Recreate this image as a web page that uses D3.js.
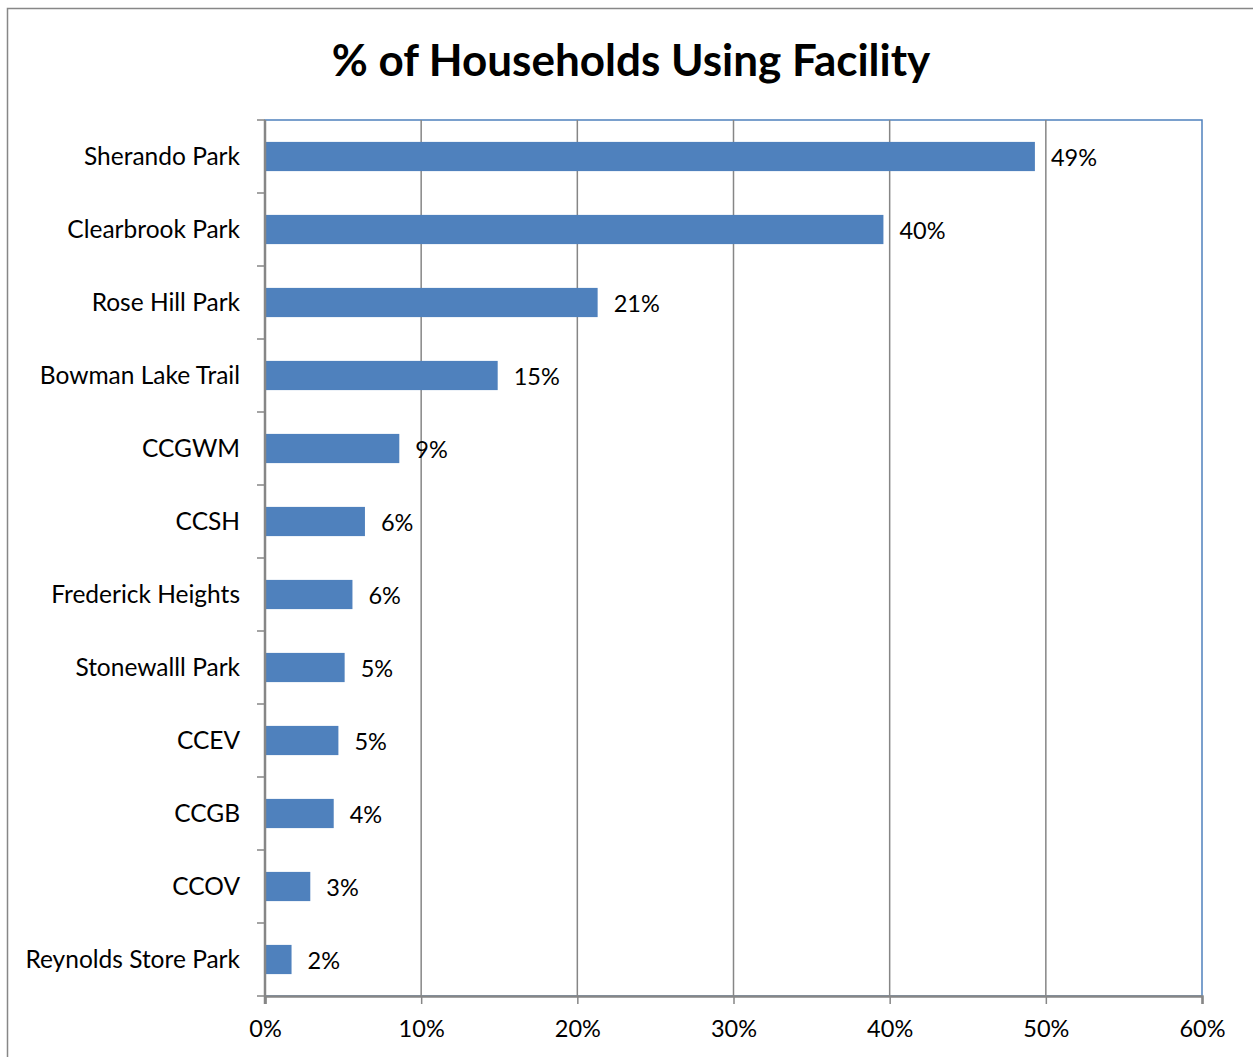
<!DOCTYPE html>
<html>
<head>
<meta charset="utf-8">
<script src="https://cdn.jsdelivr.net/npm/d3@7"></script>
<style>
  body { margin: 0; background: #fff; }
  svg { display: block; font-family: Lato, "Open Sans", sans-serif; }
</style>
</head>
<body>
<div id="chart"></div>
<script>
"use strict";

// Data
const categories = ['Sherando Park', 'Clearbrook Park', 'Rose Hill Park', 'Bowman Lake Trail', 'CCGWM', 'CCSH',
	'Frederick Heights', 'Stonewalll Park', 'CCEV', 'CCGB', 'CCOV', 'Reynolds Store Park'];
const values = [49.3, 39.6, 21.3, 14.9, 8.6, 6.4, 5.6, 5.1, 4.7, 4.4, 2.9, 1.7];
const valueLabels = ['49%', '40%', '21%', '15%', '9%', '6%', '6%', '5%', '5%', '4%', '3%', '2%'];
const xTicks = [0, 10, 20, 30, 40, 50, 60];
const title = '% of Households Using Facility';

const width = 1253, height = 1057;
const plot = { left: 265, right: 1202, top: 120, bottom: 996 };

const svg = d3.select('#chart').append('svg')
	.attr('width', width)
	.attr('height', height);

// Outer chart border
svg.append('rect')
	.attr('x', 7.5).attr('y', 8.5)
	.attr('width', width + 10).attr('height', height + 10)
	.attr('fill', '#fff')
	.attr('stroke', '#878787')
	.attr('stroke-width', 1.5);

const x = d3.scaleLinear().domain([0, 60]).range([plot.left, plot.right]);
const y = d3.scaleBand().domain(categories).range([plot.top, plot.bottom]).paddingInner(0.6).paddingOuter(0.3);
const band = d3.scaleBand().domain(categories).range([plot.top, plot.bottom]);

// Plot area border (blue)
svg.append('rect')
	.attr('x', plot.left).attr('y', plot.top)
	.attr('width', plot.right - plot.left).attr('height', plot.bottom - plot.top)
	.attr('fill', 'none')
	.attr('stroke', '#4f81bd')
	.attr('stroke-width', 1.5);

// Gridlines
svg.append('g')
	.selectAll('line')
	.data(xTicks.slice(1, -1))
	.join('line')
		.attr('x1', d => x(d)).attr('x2', d => x(d))
		.attr('y1', plot.top).attr('y2', plot.bottom)
		.attr('stroke', '#868686')
		.attr('stroke-width', 1.5);

// Bars
svg.append('g')
	.selectAll('rect')
	.data(values)
	.join('rect')
		.attr('x', x(0))
		.attr('y', (d, i) => y(categories[i]))
		.attr('width', d => x(d) - x(0))
		.attr('height', y.bandwidth())
		.attr('fill', '#4f81bd');

// Value labels
svg.append('g')
	.selectAll('text')
	.data(values)
	.join('text')
		.attr('x', d => x(d) + 16)
		.attr('y', (d, i) => band(categories[i]) + band.bandwidth() / 2 + 1)
		.attr('dy', '0.35em')
		.attr('font-size', 23.5)
		.attr('fill', '#000')
		.text((d, i) => valueLabels[i]);

// X axis
const xAxis = svg.append('g')
	.attr('transform', `translate(0,${plot.bottom})`)
	.call(d3.axisBottom(x).tickValues(xTicks).tickFormat(d => d + '%').tickSize(8).tickPadding(16));
xAxis.select('.domain').attr('stroke', '#868686').attr('stroke-width', 2.5);
xAxis.selectAll('.tick line').attr('stroke', '#868686').attr('stroke-width', 1.5);
xAxis.selectAll('.tick text').attr('font-size', 23.5).attr('fill', '#000').attr('font-family', 'Lato, sans-serif');

// Y axis: ticks at category boundaries
const yAxisG = svg.append('g');
yAxisG.append('line')
	.attr('x1', plot.left).attr('x2', plot.left)
	.attr('y1', plot.top).attr('y2', plot.bottom + 8)
	.attr('stroke', '#868686').attr('stroke-width', 2.5);
yAxisG.selectAll('.ytick')
	.data(categories.map(c => band(c)).concat([plot.bottom]))
	.join('line')
		.attr('class', 'ytick')
		.attr('x1', plot.left - 8).attr('x2', plot.left)
		.attr('y1', d => d).attr('y2', d => d)
		.attr('stroke', '#868686').attr('stroke-width', 1.5);
yAxisG.selectAll('text')
	.data(categories)
	.join('text')
		.attr('x', plot.left - 25)
		.attr('y', d => band(d) + band.bandwidth() / 2)
		.attr('dy', '0.35em')
		.attr('text-anchor', 'end')
		.attr('font-size', 24.5)
		.attr('fill', '#000')
		.text(d => d);

// Title
svg.append('text')
	.attr('x', 631)
	.attr('y', 76)
	.attr('text-anchor', 'middle')
	.attr('font-size', 44)
	.attr('font-weight', 'bold')
	.attr('fill', '#000')
	.text(title);
</script>
</body>
</html>
